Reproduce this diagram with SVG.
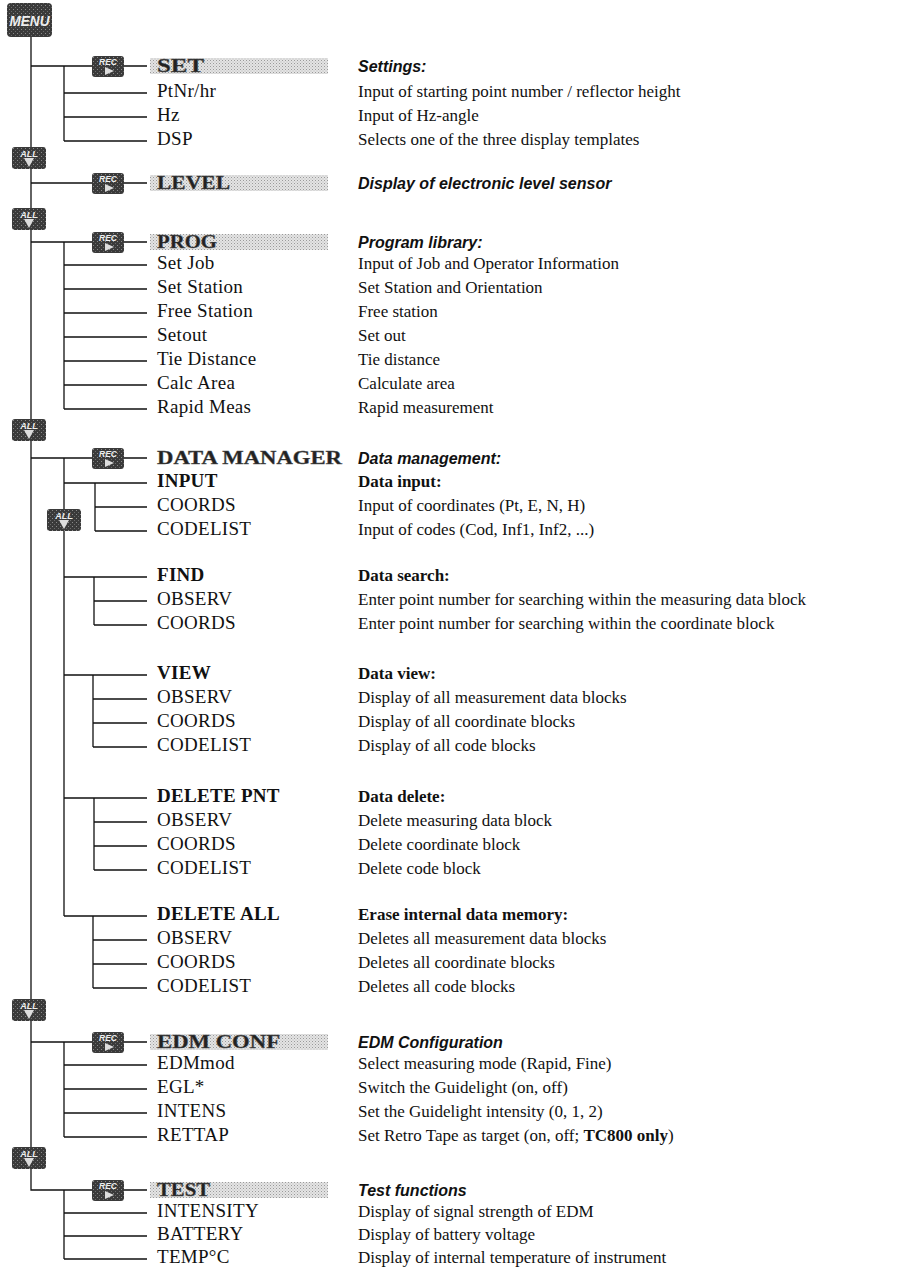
<svg xmlns="http://www.w3.org/2000/svg" width="910" height="1268" viewBox="0 0 910 1268">
<style>
.t{font-family:"Liberation Serif","Times New Roman",serif;font-size:19px;letter-spacing:0.3px;fill:#111}
.hd{font-family:"Liberation Serif","Times New Roman",serif;font-size:19px;font-weight:bold;fill:#222;stroke:#555;stroke-width:0.4}
.r{font-family:"Liberation Serif","Times New Roman",serif;font-size:17px;fill:#111}
.b{font-weight:bold}
.h{font-family:"Liberation Sans",Arial,sans-serif;font-weight:bold;font-style:italic;font-size:16px;fill:#111}
.ln{stroke:#111;stroke-width:1.3;fill:none}
.it{font-family:"Liberation Sans",Arial,sans-serif;font-style:italic;font-weight:bold;fill:#eee}
.sh{fill:url(#dots)}
</style>
<defs>
<pattern id="dots" width="3" height="3" patternUnits="userSpaceOnUse">
<rect width="3" height="3" fill="#e4e4e4"/>
<rect width="1" height="1" fill="#9a9a9a"/>
<rect x="1.5" y="1.5" width="1" height="1" fill="#b5b5b5"/>
</pattern>
<pattern id="speck" width="4" height="4" patternUnits="userSpaceOnUse">
<rect width="4" height="4" fill="#3a3a3a"/>
<rect x="1" y="1" width="1" height="1" fill="#8a8a8a"/>
<rect x="3" y="3" width="1" height="1" fill="#6a6a6a"/>
</pattern>
<g id="rec">
<rect x="0" y="0" width="32" height="21" rx="3" fill="url(#speck)"/>
<text x="16" y="9" text-anchor="middle" class="it" font-size="8.5">REC</text>
<path d="M13 11 L22 15 L13 19 Z" fill="#ddd"/>
</g>
<g id="all">
<rect x="0" y="0" width="34" height="22" rx="3" fill="url(#speck)"/>
<text x="17" y="9.5" text-anchor="middle" class="it" font-size="9">ALL</text>
<path d="M12 11 L22 11 L17 20 Z" fill="#ddd"/>
</g>
</defs>

<g id="connectors" class="ln">
<path d="M31 37 V1190 H92"/>
<path d="M31 66 H92 M124 66 H147 M64 66 V141 M64 93 H147 M64 117 H147 M64 141 H147"/>
<path d="M31 183 H92 M124 183 H147"/>
<path d="M31 242 H92 M124 242 H147 M64 242 V409 M64 265 H147 M64 289 H147 M64 313 H147 M64 337 H147 M64 361 H147 M64 385 H147 M64 409 H147"/>
<path d="M31 458 H92 M124 458 H147 M64 458 V916 M64 483 H147 M64 577 H147 M64 675 H147 M64 798 H147 M64 916 H147"/>
<path d="M95 483 V531 M95 507 H147 M95 531 H147"/>
<path d="M94 577 V625 M94 601 H147 M94 625 H147"/>
<path d="M93 675 V747 M93 699 H147 M93 723 H147 M93 747 H147"/>
<path d="M94 798 V870 M94 822 H147 M94 846 H147 M94 870 H147"/>
<path d="M93 916 V988 M93 940 H147 M93 964 H147 M93 988 H147"/>
<path d="M31 1042 H92 M124 1042 H147 M64 1042 V1137 M64 1065 H147 M64 1089 H147 M64 1113 H147 M64 1137 H147"/>
<path d="M124 1190 H147 M64 1190 V1259 M64 1213 H147 M64 1236 H147 M64 1259 H147"/>
</g>

<g id="menu">
<rect x="7" y="3" width="45" height="34" rx="4" fill="url(#speck)"/>
<text x="29.5" y="26" text-anchor="middle" class="it" font-size="15" textLength="40" lengthAdjust="spacingAndGlyphs">MENU</text>
</g>
<g id="all-1"><use href="#all" x="12" y="147"/></g>
<g id="all-2"><use href="#all" x="12" y="208"/></g>
<g id="all-3"><use href="#all" x="12" y="419"/></g>
<g id="all-4"><use href="#all" x="47" y="509"/></g>
<g id="all-5"><use href="#all" x="12" y="999"/></g>
<g id="all-6"><use href="#all" x="12" y="1147"/></g>

<g id="set">
<use href="#rec" x="92" y="56"/>
<rect class="sh" x="150" y="58" width="178" height="16"/>
<text class="hd" x="157" y="72" textLength="47" lengthAdjust="spacingAndGlyphs">SET</text>
<text class="h" x="358" y="72">Settings:</text>
</g>
<g id="set-items">
<text class="t" x="157" y="97">PtNr/hr</text><text class="r" x="358" y="97">Input of starting point number / reflector height</text>
<text class="t" x="157" y="121">Hz</text><text class="r" x="358" y="121">Input of Hz-angle</text>
<text class="t" x="157" y="145">DSP</text><text class="r" x="358" y="145">Selects one of the three display templates</text>
</g>
<g id="level">
<use href="#rec" x="92" y="173"/>
<rect class="sh" x="150" y="175" width="178" height="16"/>
<text class="hd" x="157" y="189" textLength="73" lengthAdjust="spacingAndGlyphs">LEVEL</text>
<text class="h" x="358" y="189">Display of electronic level sensor</text>
</g>
<g id="prog">
<use href="#rec" x="92" y="232"/>
<rect class="sh" x="150" y="234" width="178" height="16"/>
<text class="hd" x="157" y="248" textLength="60" lengthAdjust="spacingAndGlyphs">PROG</text>
<text class="h" x="358" y="248">Program library:</text>
</g>
<g id="prog-items">
<text class="t" x="157" y="269">Set Job</text><text class="r" x="358" y="269">Input of Job and Operator Information</text>
<text class="t" x="157" y="293">Set Station</text><text class="r" x="358" y="293">Set Station and Orientation</text>
<text class="t" x="157" y="317">Free Station</text><text class="r" x="358" y="317">Free station</text>
<text class="t" x="157" y="341">Setout</text><text class="r" x="358" y="341">Set out</text>
<text class="t" x="157" y="365">Tie Distance</text><text class="r" x="358" y="365">Tie distance</text>
<text class="t" x="157" y="389">Calc Area</text><text class="r" x="358" y="389">Calculate area</text>
<text class="t" x="157" y="413">Rapid Meas</text><text class="r" x="358" y="413">Rapid measurement</text>
</g>
<g id="data-manager">
<use href="#rec" x="92" y="448"/>
<text class="hd" x="157" y="464" textLength="185" lengthAdjust="spacingAndGlyphs">DATA MANAGER</text>
<text class="h" x="358" y="464">Data management:</text>
</g>
<g id="input">
<text class="t b" x="157" y="487">INPUT</text><text class="r b" x="358" y="487">Data input:</text>
<text class="t" x="157" y="511">COORDS</text><text class="r" x="358" y="511">Input of coordinates (Pt, E, N, H)</text>
<text class="t" x="157" y="535">CODELIST</text><text class="r" x="358" y="535">Input of codes (Cod, Inf1, Inf2, ...)</text>
</g>
<g id="find">
<text class="t b" x="157" y="581">FIND</text><text class="r b" x="358" y="581">Data search:</text>
<text class="t" x="157" y="605">OBSERV</text><text class="r" x="358" y="605">Enter point number for searching within the measuring data block</text>
<text class="t" x="157" y="629">COORDS</text><text class="r" x="358" y="629">Enter point number for searching within the coordinate block</text>
</g>
<g id="view">
<text class="t b" x="157" y="679">VIEW</text><text class="r b" x="358" y="679">Data view:</text>
<text class="t" x="157" y="703">OBSERV</text><text class="r" x="358" y="703">Display of all measurement data blocks</text>
<text class="t" x="157" y="727">COORDS</text><text class="r" x="358" y="727">Display of all coordinate blocks</text>
<text class="t" x="157" y="751">CODELIST</text><text class="r" x="358" y="751">Display of all code blocks</text>
</g>
<g id="delete-pnt">
<text class="t b" x="157" y="802">DELETE PNT</text><text class="r b" x="358" y="802">Data delete:</text>
<text class="t" x="157" y="826">OBSERV</text><text class="r" x="358" y="826">Delete measuring data block</text>
<text class="t" x="157" y="850">COORDS</text><text class="r" x="358" y="850">Delete coordinate block</text>
<text class="t" x="157" y="874">CODELIST</text><text class="r" x="358" y="874">Delete code block</text>
</g>
<g id="delete-all">
<text class="t b" x="157" y="920">DELETE ALL</text><text class="r b" x="358" y="920">Erase internal data memory:</text>
<text class="t" x="157" y="944">OBSERV</text><text class="r" x="358" y="944">Deletes all measurement data blocks</text>
<text class="t" x="157" y="968">COORDS</text><text class="r" x="358" y="968">Deletes all coordinate blocks</text>
<text class="t" x="157" y="992">CODELIST</text><text class="r" x="358" y="992">Deletes all code blocks</text>
</g>
<g id="edm-conf">
<use href="#rec" x="92" y="1032"/>
<rect class="sh" x="150" y="1034" width="178" height="16"/>
<text class="hd" x="157" y="1048" textLength="123" lengthAdjust="spacingAndGlyphs">EDM CONF</text>
<text class="h" x="358" y="1048">EDM Configuration</text>
</g>
<g id="edm-items">
<text class="t" x="157" y="1069">EDMmod</text><text class="r" x="358" y="1069">Select measuring mode (Rapid, Fine)</text>
<text class="t" x="157" y="1093">EGL*</text><text class="r" x="358" y="1093">Switch the Guidelight (on, off)</text>
<text class="t" x="157" y="1117">INTENS</text><text class="r" x="358" y="1117">Set the Guidelight intensity (0, 1, 2)</text>
<text class="t" x="157" y="1141">RETTAP</text><text class="r" x="358" y="1141">Set Retro Tape as target (on, off; <tspan class="b">TC800 only</tspan>)</text>
</g>
<g id="test">
<use href="#rec" x="92" y="1180"/>
<rect class="sh" x="150" y="1182" width="178" height="16"/>
<text class="hd" x="157" y="1196" textLength="53" lengthAdjust="spacingAndGlyphs">TEST</text>
<text class="h" x="358" y="1196">Test functions</text>
</g>
<g id="test-items">
<text class="t" x="157" y="1217">INTENSITY</text><text class="r" x="358" y="1217">Display of signal strength of EDM</text>
<text class="t" x="157" y="1240">BATTERY</text><text class="r" x="358" y="1240">Display of battery voltage</text>
<text class="t" x="157" y="1263">TEMP°C</text><text class="r" x="358" y="1263">Display of internal temperature of instrument</text>
</g>
</svg>
